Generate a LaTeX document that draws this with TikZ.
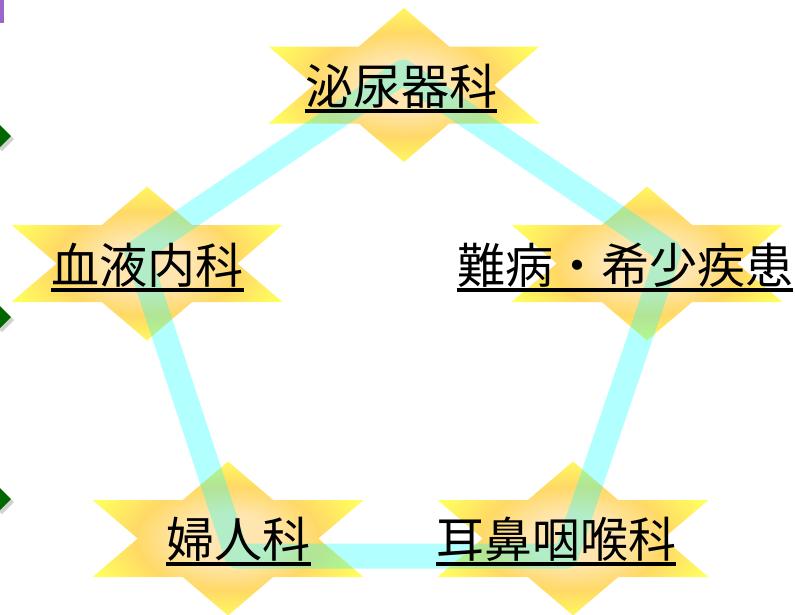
\documentclass[tikz,border=0pt]{standalone}
\usepackage{fontspec}
\newfontfamily\cjk{Noto Sans CJK JP}
\definecolor{staryel}{HTML}{FFFF5E}
\definecolor{stargold}{HTML}{FFD966}
\definecolor{starpeach}{HTML}{FFE6B0}
\definecolor{ringcyan}{HTML}{00FFFF}
\definecolor{dgreen}{HTML}{006600}
\definecolor{barpurple}{HTML}{9966CC}
\pgfdeclareradialshading{starglow}{\pgfpoint{0bp}{0bp}}{color(0bp)=(starpeach); color(8bp)=(starpeach); color(17bp)=(stargold); color(27bp)=(staryel); color(50bp)=(staryel)}
\tikzset{
  hexstar/.pic={\path[shading=starglow] (0,-77) -- (45.2,-38.5) -- (135.5,-38.5) -- (90.3,0) -- (135.5,38.5) -- (45.2,38.5) -- (0,77) -- (-45.2,38.5) -- (-135.5,38.5) -- (-90.3,0) -- (-135.5,-38.5) -- (-45.2,-38.5) -- cycle;},
  ring/.style={draw=ringcyan, draw opacity=0.3, line width=25pt, line join=round},
  lbl/.style={font=\cjk\fontsize{48}{58}\selectfont, inner sep=0pt, anchor=base, text=black},
  uline/.style={line width=4pt, black},
  bullet/.style={fill=dgreen},
  bshadow/.style={fill=black, fill opacity=0.18},
}
\begin{document}
\begin{tikzpicture}[x=1pt,y=-1pt]
\useasboundingbox (0,0) rectangle (795,614);
% left edge decorations
\fill[barpurple] (0,0) rectangle (4,23);
\foreach \yy in {136,317,499}{
  \fill[bshadow] (-11,\yy+3) -- (2,\yy-8) -- (14,\yy+3) -- (2,\yy+15) -- cycle;
  \fill[bullet] (-11,\yy) -- (0,\yy-11) -- (11,\yy) -- (0,\yy+11) -- cycle;
}
% stars
\pic at (404,85) {hexstar};
\pic at (147,263.5) {hexstar};
\pic at (647,263.5) {hexstar};
\pic at (228,538.5) {hexstar};
\pic at (573,538.5) {hexstar};
% pentagon ring
\coordinate (pA) at (403,72);
\coordinate (pB) at (137,252);
\coordinate (pC) at (669,252);
\coordinate (pD) at (237,556);
\coordinate (pE) at (566,556);
\draw[ring] (pA) -- (pB) -- (pD) -- (pE) -- (pC) -- cycle;
% labels
\node[lbl] (uro) at (401,104) {泌尿器科};
\node[lbl] (blood) at (147.5,283) {血液内科};
\node[lbl] (rare) at (625,283) {難病・希少疾患};
\node[lbl] (gyn) at (238.5,557) {婦人科};
\node[lbl] (ent) at (556,557) {耳鼻咽喉科};
\foreach \n in {uro,blood,rare,gyn,ent}{
  \draw[uline] ([yshift=-7pt]\n.base west) -- ([yshift=-7pt]\n.base east);
}
\end{tikzpicture}
\end{document}
